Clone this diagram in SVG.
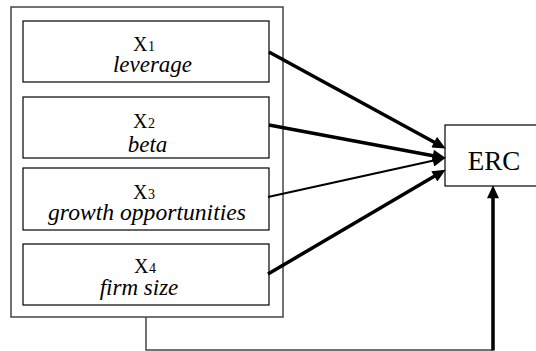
<svg xmlns="http://www.w3.org/2000/svg" width="536" height="351" viewBox="0 0 536 351">
  <style>
    .box { fill: #fff; stroke: #000; stroke-width: 1.2; }
    .outer { fill: #fff; stroke: #444; stroke-width: 1.5; }
    text { font-family: "Liberation Serif", "Times New Roman", serif; fill: #000; }
    .x { font-size: 20px; }
    .sub { font-size: 14px; }
    .lab { font-size: 23px; font-style: italic; text-anchor: middle; }
    .erc { font-size: 27px; text-anchor: middle; }
    .arr { fill: none; stroke: #000; stroke-width: 3.5; marker-end: url(#ah); }
    .arr-thin { fill: none; stroke: #000; stroke-width: 2.2; marker-end: url(#ah); }
    .link { fill: none; stroke: #444; stroke-width: 1.5; }
  </style>
  <defs>
    <marker id="ah" markerUnits="userSpaceOnUse" markerWidth="14" markerHeight="12" viewBox="0 0 12 11" refX="4" refY="5.5" orient="auto">
      <path d="M0,0 L12,5.5 L0,11 z" fill="#000"/>
    </marker>
  </defs>

  <g id="group-box">
    <rect class="outer" x="11" y="7" width="272" height="310"/>
  </g>

  <g id="x1">
    <rect class="box" x="23" y="21" width="246" height="61"/>
    <text class="x" x="133" y="51">X</text>
    <text class="sub" x="148" y="51">1</text>
    <text class="lab" x="152.5" y="72">leverage</text>
  </g>
  <g id="x2">
    <rect class="box" x="23" y="97" width="246" height="61"/>
    <text class="x" x="133" y="128">X</text>
    <text class="sub" x="148" y="128">2</text>
    <text class="lab" x="147.5" y="152">beta</text>
  </g>
  <g id="x3">
    <rect class="box" x="23" y="168" width="246" height="62"/>
    <text class="x" x="133" y="199">X</text>
    <text class="sub" x="148" y="199">3</text>
    <text class="lab" x="147" y="220" textLength="198" lengthAdjust="spacingAndGlyphs">growth opportunities</text>
  </g>
  <g id="x4">
    <rect class="box" x="23" y="244" width="246" height="61"/>
    <text class="x" x="134" y="273">X</text>
    <text class="sub" x="149" y="273">4</text>
    <text class="lab" x="139" y="295">firm size</text>
  </g>

  <g id="erc">
    <rect class="box" x="445" y="125" width="100" height="61"/>
    <text class="erc" x="494" y="170">ERC</text>
  </g>

  <g id="connectors">
    <line class="arr" x1="269" y1="52" x2="438" y2="144.2"/>
    <line class="arr" x1="269" y1="125" x2="437.1" y2="156.5"/>
    <line class="arr-thin" x1="268" y1="197" x2="437.2" y2="159.7"/>
    <line class="arr" x1="268" y1="274" x2="438.1" y2="174.1"/>
    <polyline class="link" points="146,317 146,350 493,350"/>
    <line class="arr" x1="493" y1="350.5" x2="493" y2="194"/>
  </g>
</svg>
